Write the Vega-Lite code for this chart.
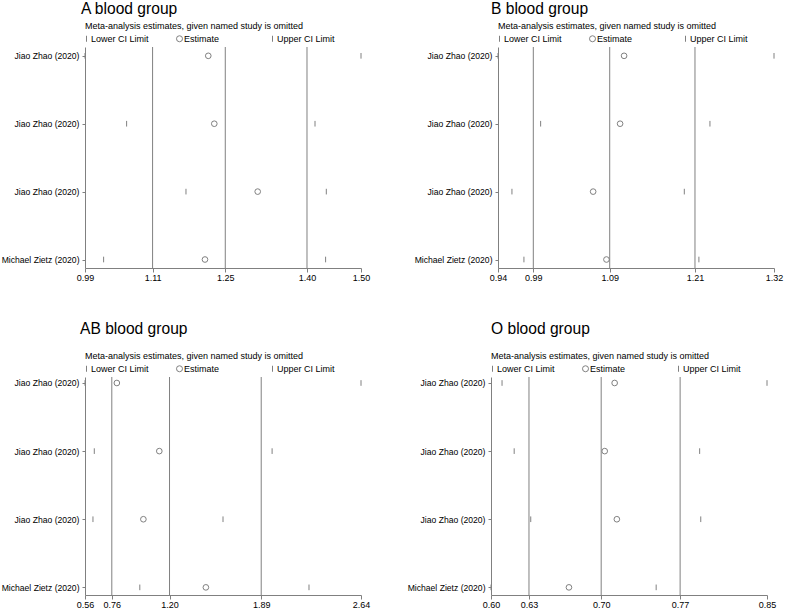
{
  "$schema": "https://vega.github.io/schema/vega-lite/v6.json",
  "padding": {"left": 1, "top": 2, "right": 2, "bottom": 0},
  "config": {
    "font": "Liberation Sans",
    "view": {"stroke": null},
    "axis": {"domainColor": "#808080", "tickColor": "#808080", "labelColor": "#000000", "labelFontSize": 9, "grid": false, "title": null},
    "axisX": {"tickSize": 4, "labelPadding": 1, "labelFlush": false, "labelOverlap": false},
    "axisY": {"tickSize": 3, "labelPadding": 3, "labelFontSize": 8.6, "labelOverlap": false},
    "legend": {"orient": "top", "direction": "horizontal", "columns": 3, "gridAlign": "all", "columnPadding": 25, "padding": 0, "offset": 3, "titleFontSize": 9, "titleFontWeight": "normal", "titleColor": "#000000", "titlePadding": 3, "labelFontSize": 9, "labelColor": "#000000", "labelOffset": 0, "symbolOffset": -3, "symbolSize": 36, "symbolStrokeWidth": 1, "symbolStrokeColor": "#808080", "titleLimit": 400},
    "title": {"anchor": "start", "frame": "group", "fontSize": 15.6, "fontWeight": "normal", "color": "#000000", "font": "Liberation Sans"}
  },
  "datasets": {
    "A": [
      {"row": 1, "study": "Jiao Zhao (2020)", "type": "Lower CI Limit", "value": 0.99},
      {"row": 1, "study": "Jiao Zhao (2020)", "type": "Estimate", "value": 1.2178},
      {"row": 1, "study": "Jiao Zhao (2020)", "type": "Upper CI Limit", "value": 1.50},
      {"row": 2, "study": "Jiao Zhao (2020)", "type": "Lower CI Limit", "value": 1.0669},
      {"row": 2, "study": "Jiao Zhao (2020)", "type": "Estimate", "value": 1.2289},
      {"row": 2, "study": "Jiao Zhao (2020)", "type": "Upper CI Limit", "value": 1.4150},
      {"row": 3, "study": "Jiao Zhao (2020)", "type": "Lower CI Limit", "value": 1.1766},
      {"row": 3, "study": "Jiao Zhao (2020)", "type": "Estimate", "value": 1.3091},
      {"row": 3, "study": "Jiao Zhao (2020)", "type": "Upper CI Limit", "value": 1.4359},
      {"row": 4, "study": "Michael Zietz (2020)", "type": "Lower CI Limit", "value": 1.0244},
      {"row": 4, "study": "Michael Zietz (2020)", "type": "Estimate", "value": 1.2117},
      {"row": 4, "study": "Michael Zietz (2020)", "type": "Upper CI Limit", "value": 1.4346}
    ],
    "B": [
      {"row": 1, "study": "Jiao Zhao (2020)", "type": "Lower CI Limit", "value": 0.94},
      {"row": 1, "study": "Jiao Zhao (2020)", "type": "Estimate", "value": 1.1136},
      {"row": 1, "study": "Jiao Zhao (2020)", "type": "Upper CI Limit", "value": 1.32},
      {"row": 2, "study": "Jiao Zhao (2020)", "type": "Lower CI Limit", "value": 0.9987},
      {"row": 2, "study": "Jiao Zhao (2020)", "type": "Estimate", "value": 1.1081},
      {"row": 2, "study": "Jiao Zhao (2020)", "type": "Upper CI Limit", "value": 1.2318},
      {"row": 3, "study": "Jiao Zhao (2020)", "type": "Lower CI Limit", "value": 0.9592},
      {"row": 3, "study": "Jiao Zhao (2020)", "type": "Estimate", "value": 1.0710},
      {"row": 3, "study": "Jiao Zhao (2020)", "type": "Upper CI Limit", "value": 1.1965},
      {"row": 4, "study": "Michael Zietz (2020)", "type": "Lower CI Limit", "value": 0.9757},
      {"row": 4, "study": "Michael Zietz (2020)", "type": "Estimate", "value": 1.0893},
      {"row": 4, "study": "Michael Zietz (2020)", "type": "Upper CI Limit", "value": 1.2166}
    ],
    "AB": [
      {"row": 1, "study": "Jiao Zhao (2020)", "type": "Lower CI Limit", "value": 0.56},
      {"row": 1, "study": "Jiao Zhao (2020)", "type": "Estimate", "value": 0.80},
      {"row": 1, "study": "Jiao Zhao (2020)", "type": "Upper CI Limit", "value": 2.64},
      {"row": 2, "study": "Jiao Zhao (2020)", "type": "Lower CI Limit", "value": 0.63},
      {"row": 2, "study": "Jiao Zhao (2020)", "type": "Estimate", "value": 1.12},
      {"row": 2, "study": "Jiao Zhao (2020)", "type": "Upper CI Limit", "value": 1.97},
      {"row": 3, "study": "Jiao Zhao (2020)", "type": "Lower CI Limit", "value": 0.62},
      {"row": 3, "study": "Jiao Zhao (2020)", "type": "Estimate", "value": 1.00},
      {"row": 3, "study": "Jiao Zhao (2020)", "type": "Upper CI Limit", "value": 1.60},
      {"row": 4, "study": "Michael Zietz (2020)", "type": "Lower CI Limit", "value": 0.973},
      {"row": 4, "study": "Michael Zietz (2020)", "type": "Estimate", "value": 1.471},
      {"row": 4, "study": "Michael Zietz (2020)", "type": "Upper CI Limit", "value": 2.248}
    ],
    "O": [
      {"row": 1, "study": "Jiao Zhao (2020)", "type": "Lower CI Limit", "value": 0.610},
      {"row": 1, "study": "Jiao Zhao (2020)", "type": "Estimate", "value": 0.712},
      {"row": 1, "study": "Jiao Zhao (2020)", "type": "Upper CI Limit", "value": 0.85},
      {"row": 2, "study": "Jiao Zhao (2020)", "type": "Lower CI Limit", "value": 0.621},
      {"row": 2, "study": "Jiao Zhao (2020)", "type": "Estimate", "value": 0.703},
      {"row": 2, "study": "Jiao Zhao (2020)", "type": "Upper CI Limit", "value": 0.789},
      {"row": 3, "study": "Jiao Zhao (2020)", "type": "Lower CI Limit", "value": 0.636},
      {"row": 3, "study": "Jiao Zhao (2020)", "type": "Estimate", "value": 0.714},
      {"row": 3, "study": "Jiao Zhao (2020)", "type": "Upper CI Limit", "value": 0.790},
      {"row": 4, "study": "Michael Zietz (2020)", "type": "Lower CI Limit", "value": 0.60},
      {"row": 4, "study": "Michael Zietz (2020)", "type": "Estimate", "value": 0.6706},
      {"row": 4, "study": "Michael Zietz (2020)", "type": "Upper CI Limit", "value": 0.7496}
    ],
    "gA": [{"v": 1.1149}, {"v": 1.2492}, {"v": 1.4002}],
    "gB": [{"v": 0.9886}, {"v": 1.0938}, {"v": 1.2112}],
    "gAB": [{"v": 0.762}, {"v": 1.197}, {"v": 1.888}],
    "gO": [{"v": 0.6344}, {"v": 0.6998}, {"v": 0.7713}]
  },
  "spacing": 40,
  "resolve": {"scale": {"shape": "independent"}, "legend": {"shape": "independent"}},
  "vconcat": [
    {
      "spacing": 44,
      "resolve": {"scale": {"shape": "independent"}, "legend": {"shape": "independent"}},
      "hconcat": [
        {
          "width": 276, "height": 221,
          "title": {"text": "A blood group", "dx": -4, "offset": 4},
          "layer": [
            {"data": {"name": "gA"}, "mark": {"type": "rule", "color": "#808080", "strokeWidth": 1},
             "encoding": {"x": {"field": "v", "type": "quantitative", "scale": {"domain": [0.99, 1.50], "nice": false, "zero": false}}}},
            {"data": {"name": "A"}, "mark": {"type": "point", "filled": false, "size": 32, "strokeWidth": 1, "color": "#808080", "opacity": 1},
             "encoding": {
               "x": {"field": "value", "type": "quantitative", "scale": {"domain": [0.99, 1.50], "nice": false, "zero": false}, "axis": {"values": [0.99, 1.1149, 1.2492, 1.4002, 1.50], "format": ".2f"}},
               "y": {"field": "row", "type": "quantitative", "scale": {"domain": [0.87, 4.125], "reverse": true, "nice": false, "zero": false}, "axis": {"values": [1, 2, 3, 4], "labelExpr": "datum.value == 4 ? 'Michael Zietz (2020)' : 'Jiao Zhao (2020)'"}},
               "shape": {"field": "type", "type": "nominal", "scale": {"domain": ["Lower CI Limit", "Estimate", "Upper CI Limit"], "range": ["M0,-1L0,1", "circle", "M0,-1L0,1"]}, "legend": {"title": "Meta-analysis estimates, given named study is omitted"}}
             }}
          ]
        },
        {
          "width": 276, "height": 221,
          "title": {"text": "B blood group", "dx": -7, "offset": 4},
          "layer": [
            {"data": {"name": "gB"}, "mark": {"type": "rule", "color": "#808080", "strokeWidth": 1},
             "encoding": {"x": {"field": "v", "type": "quantitative", "scale": {"domain": [0.94, 1.32], "nice": false, "zero": false}}}},
            {"data": {"name": "B"}, "mark": {"type": "point", "filled": false, "size": 32, "strokeWidth": 1, "color": "#808080", "opacity": 1},
             "encoding": {
               "x": {"field": "value", "type": "quantitative", "scale": {"domain": [0.94, 1.32], "nice": false, "zero": false}, "axis": {"values": [0.94, 0.9886, 1.0938, 1.2112, 1.32], "format": ".2f"}},
               "y": {"field": "row", "type": "quantitative", "scale": {"domain": [0.87, 4.125], "reverse": true, "nice": false, "zero": false}, "axis": {"values": [1, 2, 3, 4], "labelExpr": "datum.value == 4 ? 'Michael Zietz (2020)' : 'Jiao Zhao (2020)'"}},
               "shape": {"field": "type", "type": "nominal", "scale": {"domain": ["Lower CI Limit", "Estimate", "Upper CI Limit"], "range": ["M0,-1L0,1", "circle", "M0,-1L0,1"]}, "legend": {"title": "Meta-analysis estimates, given named study is omitted"}}
             }}
          ]
        }
      ]
    },
    {
      "spacing": 37,
      "resolve": {"scale": {"shape": "independent"}, "legend": {"shape": "independent"}},
      "hconcat": [
        {
          "width": 276, "height": 218,
          "title": {"text": "AB blood group", "dx": -5, "offset": 14},
          "layer": [
            {"data": {"name": "gAB"}, "mark": {"type": "rule", "color": "#808080", "strokeWidth": 1},
             "encoding": {"x": {"field": "v", "type": "quantitative", "scale": {"domain": [0.56, 2.64], "nice": false, "zero": false}}}},
            {"data": {"name": "AB"}, "mark": {"type": "point", "filled": false, "size": 32, "strokeWidth": 1, "color": "#808080", "opacity": 1},
             "encoding": {
               "x": {"field": "value", "type": "quantitative", "scale": {"domain": [0.56, 2.64], "nice": false, "zero": false}, "axis": {"values": [0.56, 0.762, 1.197, 1.888, 2.64], "format": ".2f"}},
               "y": {"field": "row", "type": "quantitative", "scale": {"domain": [0.912, 4.112], "reverse": true, "nice": false, "zero": false}, "axis": {"values": [1, 2, 3, 4], "labelExpr": "datum.value == 4 ? 'Michael Zietz (2020)' : 'Jiao Zhao (2020)'"}},
               "shape": {"field": "type", "type": "nominal", "scale": {"domain": ["Lower CI Limit", "Estimate", "Upper CI Limit"], "range": ["M0,-1L0,1", "circle", "M0,-1L0,1"]}, "legend": {"title": "Meta-analysis estimates, given named study is omitted"}}
             }}
          ]
        },
        {
          "width": 276, "height": 218,
          "title": {"text": "O blood group", "dx": 0, "offset": 14},
          "layer": [
            {"data": {"name": "gO"}, "mark": {"type": "rule", "color": "#808080", "strokeWidth": 1},
             "encoding": {"x": {"field": "v", "type": "quantitative", "scale": {"domain": [0.60, 0.85], "nice": false, "zero": false}}}},
            {"data": {"name": "O"}, "mark": {"type": "point", "filled": false, "size": 32, "strokeWidth": 1, "color": "#808080", "opacity": 1},
             "encoding": {
               "x": {"field": "value", "type": "quantitative", "scale": {"domain": [0.60, 0.85], "nice": false, "zero": false}, "axis": {"values": [0.60, 0.6344, 0.6998, 0.7713, 0.85], "format": ".2f"}},
               "y": {"field": "row", "type": "quantitative", "scale": {"domain": [0.912, 4.112], "reverse": true, "nice": false, "zero": false}, "axis": {"values": [1, 2, 3, 4], "labelExpr": "datum.value == 4 ? 'Michael Zietz (2020)' : 'Jiao Zhao (2020)'"}},
               "shape": {"field": "type", "type": "nominal", "scale": {"domain": ["Lower CI Limit", "Estimate", "Upper CI Limit"], "range": ["M0,-1L0,1", "circle", "M0,-1L0,1"]}, "legend": {"title": "Meta-analysis estimates, given named study is omitted"}}
             }}
          ]
        }
      ]
    }
  ]
}
